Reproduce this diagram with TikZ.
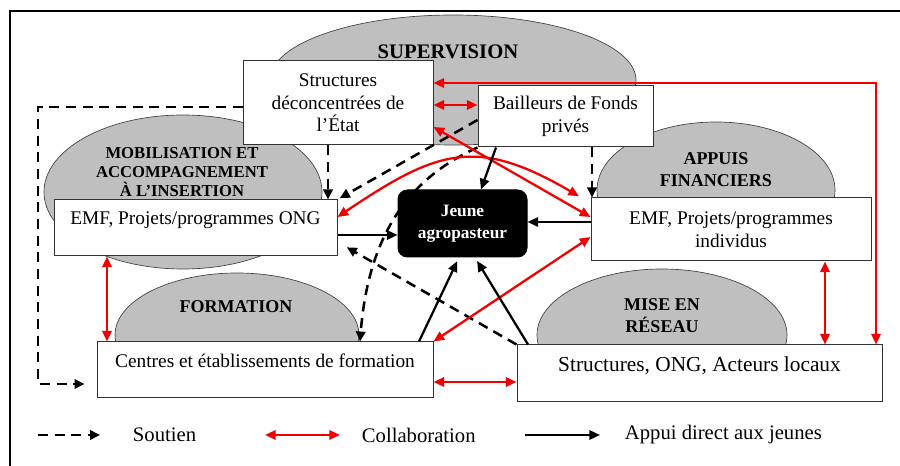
\documentclass[tikz,border=0pt]{standalone}
\usepackage{fontspec}
\setmainfont{Liberation Serif}
\usetikzlibrary{arrows.meta}

\definecolor{zonegray}{RGB}{191,191,191}
\definecolor{collabred}{RGB}{240,0,0}

\tikzset{every picture/.style={line width=0.75pt}}
\tikzset{
  zone/.style={draw=black!75, fill=zonegray, line width=0.5pt},
  zonetitle/.style={align=center, font=\fontsize{13.5}{16.5}\selectfont\bfseries},
  actor/.style={draw=black!80, fill=white, inner sep=0pt, align=center, font=\fontsize{14.5}{17}\selectfont},
  soutien/.style={-{Triangle[length=7.5pt,width=7pt]}, line width=1.9pt, dash pattern=on 7.5pt off 5pt},
  collab/.style={{Triangle[length=8pt,width=7pt]}-{Triangle[length=8pt,width=7pt]}, line width=1.7pt, draw=collabred},
  appui/.style={-{Triangle[length=8pt,width=7pt]}, line width=1.7pt},
  legende/.style={anchor=west, font=\fontsize{15.5}{18}\selectfont},
}

\begin{document}
\begin{tikzpicture}[x=0.75pt,y=0.75pt,yscale=-1,xscale=1]
	\useasboundingbox (0,0) rectangle (900,466);

	%Frame
	\draw [line width=1.5pt] (10,466) -- (10,11) -- (900,11) ;

	%Shape: Ellipse [supervision]
	\draw [zone] (453,80) ellipse [x radius=183, y radius=65] ;
	%Shape: Ellipse [mobilisation]
	\draw [zone] (183,192) ellipse [x radius=139, y radius=77] ;
	%Shape: Ellipse [appuis]
	\draw [zone] (716,190) ellipse [x radius=119, y radius=68] ;
	%Shape: Ellipse [formation]
	\draw [zone] (237,335) ellipse [x radius=122, y radius=62] ;
	%Shape: Ellipse [reseau]
	\draw [zone] (662,335) ellipse [x radius=125, y radius=66] ;

	% Text Node
	\node [zonetitle, font=\fontsize{15.5}{18}\selectfont\bfseries] (tsupervision) at (448,52) {SUPERVISION};
	% Text Node
	\node [zonetitle, font=\fontsize{12.5}{14.5}\selectfont\bfseries] (tmobilisation) at (182,172) {MOBILISATION ET\\ACCOMPAGNEMENT\\À L’INSERTION};
	% Text Node
	\node [zonetitle] (tappuis) at (716,170) {APPUIS\\FINANCIERS};
	% Text Node
	\node [zonetitle] (tformation) at (236,307) {FORMATION};
	% Text Node
	\node [zonetitle] (treseau) at (662,316) {MISE EN\\RÉSEAU};

	%Shape: Rectangle
	\node [actor, minimum width=142.5pt, minimum height=63pt] (etat) at (338,103) {Structures\\déconcentrées de\\l’État};
	%Shape: Rectangle
	\node [actor, minimum width=131.25pt, minimum height=45.75pt] (bailleurs) at (565.5,116.5) {Bailleurs de Fonds\\privés};
	%Shape: Rectangle
	\node [actor, minimum width=212.25pt, minimum height=42pt, text height=10pt, text depth=14.5pt] (emfong) at (195.5,228) {EMF, Projets/programmes ONG};
	%Shape: Rectangle
	\node [actor, minimum width=210pt, minimum height=47.25pt] (emfind) at (731,229.5) {EMF, Projets/programmes\\individus};
	%Shape: Rectangle
	\node [actor, minimum width=252pt, minimum height=42pt, text height=10pt, text depth=13pt] (centres) at (265,370) {Centres et établissements de formation};
	%Shape: Rectangle
	\node [actor, minimum width=273.75pt, minimum height=42.75pt, text height=10.5pt, text depth=12.75pt, font=\fontsize{16}{18}\selectfont] (acteurs) at (699.5,373.5) {Structures, ONG, Acteurs locaux};
	%Shape: Rounded Rectangle
	\node [draw, fill=black, rounded corners=7pt, inner sep=0pt, minimum width=96.75pt, minimum height=50.25pt, text=white, align=center, font=\fontsize{13}{16.5}\selectfont\bfseries] (jeune) at (462.5,223.5) {Jeune\\agropasteur};

	%Dashed Lines
	\draw [soutien] (etat.south -| 328,0) -- (emfong.north -| 328,0) ;
	\coordinate (coin) at (38,384) ;
	\draw [soutien, shorten >=9pt] (etat.west |- 0,107) -| (coin) -- (centres.west |- coin) ;
	\draw [soutien] (bailleurs.south -| 592,0) -- (emfind.north -| 592,0) ;
	\draw [soutien, shorten >=2pt] (bailleurs.west |- 0,120) -- (emfong.north east) ;
	\draw [soutien] (bailleurs.south west) .. controls (405,180) and (368,240) .. (centres.north -| 360,0) ;
	\draw [soutien, shorten >=8pt] (acteurs.north west) -- (emfong.east |- 0,242) ;

	%Red Lines
	\draw [collab] (etat.east |- 0,105) -- (bailleurs.west |- 0,105) ;
	\draw [collab] (etat.east |- 0,83) -| (acteurs.north -| 876,0) ;
	\draw [collab] (etat.east |- 0,127) -- (emfind.west |- 0,217) ;
	\draw [collab, shorten >=10pt] (emfong.east |- 0,217) .. controls (437,150) and (476,136) .. (emfind.west |- 0,203) ;
	\draw [collab] (centres.north east) -- (emfind.west |- 0,237) ;
	\draw [collab] (centres.east |- 0,382) -- (acteurs.west |- 0,382) ;
	\draw [collab] (emfong.south -| 107,0) -- (centres.north -| 107,0) ;
	\draw [collab] (emfind.south -| 825,0) -- (acteurs.north -| 825,0) ;

	%Straight Lines
	\draw [appui] (emfong.east |- 0,235) -- (jeune.west |- 0,235) ;
	\draw [appui] (emfind.west |- 0,222) -- (jeune.east |- 0,222) ;
	\draw [appui] (bailleurs.south -| 496,0) -- (jeune.north -| 481,0) ;
	\draw [appui, shorten >=3pt] (centres.north -| 419,0) -- (jeune.south -| 459,0) ;
	\draw [appui, shorten >=3pt] (acteurs.north -| 528,0) -- (jeune.south -| 475,0) ;

	%Legend
	\coordinate (lsa) at (38,435) ;
	\coordinate (lsb) at (100,435) ;
	\draw [soutien] (lsa) -- (lsb) ;
	\node [legende] (lsoutien) at (128,435) {Soutien};
	\coordinate (lca) at (265,435) ;
	\coordinate (lcb) at (340,435) ;
	\draw [collab] (lca) -- (lcb) ;
	\node [legende] (lcollab) at (357,435) {Collaboration};
	\coordinate (laa) at (525,435) ;
	\coordinate (lab) at (600,435) ;
	\draw [appui] (laa) -- (lab) ;
	\node [legende] (lappui) at (620,435) {Appui direct aux jeunes};

\end{tikzpicture}
\end{document}
